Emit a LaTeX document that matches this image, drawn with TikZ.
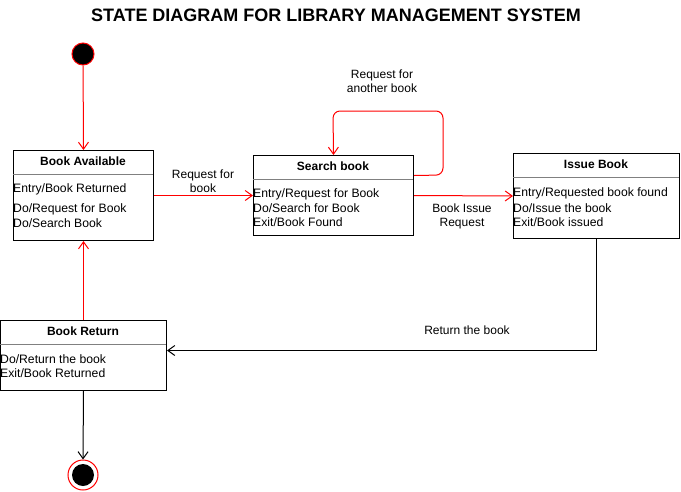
\documentclass[tikz,border=0pt]{standalone}
\usepackage{fontspec}
\setmainfont{Liberation Sans}
\usetikzlibrary{arrows.meta,calc}
\definecolor{lnred}{HTML}{FF0000}
\definecolor{divgray}{HTML}{808080}
\tikzset{
  statebox/.style={draw=black, line width=1pt, rectangle, inner sep=0pt, anchor=north west},
  divider/.style={draw=divgray, line width=0.8pt},
  boxtitle/.style={font=\fontsize{12}{14}\selectfont\bfseries, inner sep=0pt},
  boxtext/.style={font=\fontsize{12.2}{14}\selectfont, inner sep=0pt, anchor=west},
  lbl/.style={font=\fontsize{12}{14}\selectfont, align=center, inner sep=0pt},
  tip/.style={-{Straight Barb[length=7pt,width=10pt,line width=1pt]}},
  redarrow/.style={tip, draw=lnred, line width=1pt},
  blkarrow/.style={tip, draw=black, line width=1pt},
}
\begin{document}
\begin{tikzpicture}[x=1pt,y=-1pt]
\useasboundingbox (0,0) rectangle (681,491);
% title
\node[font=\fontsize{18}{20}\selectfont\bfseries, inner sep=0pt] (title) at (336,15) {STATE DIAGRAM FOR LIBRARY MANAGEMENT SYSTEM};
% start
\node[circle, fill=black, draw=lnred, line width=1pt, minimum size=22pt, inner sep=0pt] (start) at (83,54) {};
% Book Available
\node[statebox, minimum width=140pt, minimum height=90pt] (ba) at (13,150) {};
\draw[divider] (13,174) -- (153,174);
\node[boxtitle] (batitle) at (83,161) {Book Available};
\node[boxtext] (ba1) at (13,189) {Entry/Book Returned};
\node[boxtext] (ba2) at (13,209) {Do/Request for Book};
\node[boxtext] (ba3) at (13,223) {Do/Search Book};
% Search book
\node[statebox, minimum width=160pt, minimum height=80pt] (sb) at (253,155) {};
\draw[divider] (253,179) -- (413,179);
\node[boxtitle] (sbtitle) at (333,166) {Search book};
\node[boxtext] (sb1) at (253,194) {Entry/Request for Book};
\node[boxtext] (sb2) at (253,208) {Do/Search for Book};
\node[boxtext] (sb3) at (253,222) {Exit/Book Found};
% Issue Book
\node[statebox, minimum width=166pt, minimum height=85pt] (ib) at (513,153) {};
\draw[divider] (513,177) -- (679,177);
\node[boxtitle] (ibtitle) at (596,164) {Issue Book};
\node[boxtext] (ib1) at (513,193) {Entry/Requested book found};
\node[boxtext] (ib2) at (513,208) {Do/Issue the book};
\node[boxtext] (ib3) at (513,222) {Exit/Book issued};
% Book Return
\node[statebox, minimum width=166pt, minimum height=70pt] (br) at (0,320) {};
\draw[divider] (0,344) -- (166,344);
\node[boxtitle] (brtitle) at (83,331) {Book Return};
\node[boxtext] (br1) at (0,359) {Do/Return the book};
\node[boxtext] (br2) at (0,373) {Exit/Book Returned};
% end
\node[circle, draw=lnred, line width=1pt, minimum size=30pt, inner sep=0pt] (endo) at (83,475) {};
\node[circle, fill=black, minimum size=22pt, inner sep=0pt] (endi) at (83,475) {};
% connectors
\draw[redarrow] (start) -- (ba.north);
\draw[redarrow] (ba.east) -- (sb.west);
\node[lbl] (l1) at (203,181) {Request for\\book};
\draw[redarrow, rounded corners=7pt] ([yshift=20pt]sb.east) -- (443,175) -- (443,111) -- (333,111) -- (sb.north);
\node[lbl] (l2) at (382,81) {Request for\\another book};
\draw[redarrow] (sb.east) -- (ib.west);
\node[lbl] (l3) at (462,216) {Book Issue\\Request};
\draw[blkarrow] (ib.south) |- ([yshift=5pt]br.east);
\node[lbl] (l4) at (467,330) {Return the book};
\draw[redarrow] (br.north) -- (ba.south);
\draw[blkarrow] (br.south) -- (endo.north);
\end{tikzpicture}
\end{document}
